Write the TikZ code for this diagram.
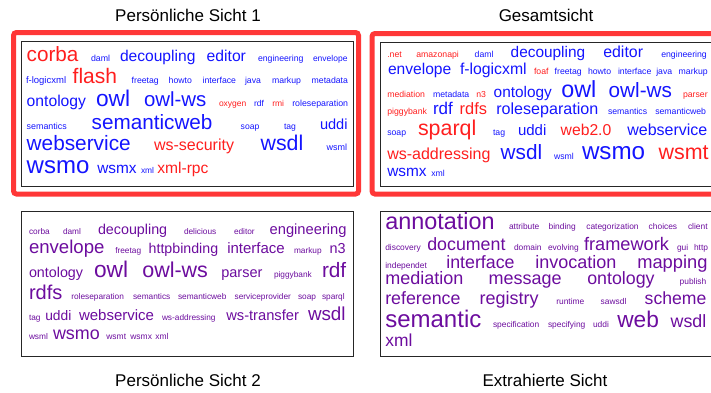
\documentclass[tikz,border=0pt]{standalone}
\usepackage{fontspec}
\setmainfont{Liberation Sans}
\definecolor{tagblue}{RGB}{20,20,255}
\definecolor{tagred}{RGB}{255,30,30}
\definecolor{tagpurple}{RGB}{108,12,158}
\definecolor{hired}{RGB}{255,55,55}
\begin{document}
\begin{tikzpicture}[x=1pt,y=-1pt,
  tag/.style={anchor=base west,inner sep=0pt,outer sep=0pt},
  title/.style={anchor=base,inner sep=0pt,font=\fontsize{17}{17}\selectfont},
  frame/.style={draw=black!85,line width=1pt},
  hilite/.style={draw=hired,line width=5pt,rounded corners=3pt}
]
\useasboundingbox (0,0) rectangle (711,392);
\clip (0,0) rectangle (711,392);
\draw[hilite] (13.5,32.5) rectangle (358.5,194);
\draw[hilite] (372,33.5) rectangle (730,194);
\draw[frame] (21,41) rectangle (353,186);
\draw[frame] (380,42) rectangle (730,186);
\draw[frame] (21,211) rectangle (353,356);
\draw[frame] (380,211) rectangle (730,356);
\node[title] (ps1title) at (188,21) {Persönliche Sicht 1};
\node[title] (gstitle)  at (546,21) {Gesamtsicht};
\node[title] (ps2title) at (188,386) {Persönliche Sicht 2};
\node[title] (extitle)  at (545,386) {Extrahierte Sicht};
\foreach \px/\py/\sz/\col/\txt [count=\i] in {
  26.7/61.7/20.7/tagred/corba, 91/61.7/8.8/tagblue/daml, 120/61.7/15.6/tagblue/decoupling,
  206.7/61.7/15.7/tagblue/editor, 258/61.7/8.7/tagblue/engineering, 313/61.7/8.5/tagblue/envelope,
  26/83/9.5/tagblue/f-logicxml, 72.7/83/21/tagred/flash, 131.7/83/8.7/tagblue/freetag,
  168.7/83/8.7/tagblue/howto, 202.7/83/8.7/tagblue/interface, 245/83/8.7/tagblue/java,
  272/83/8.7/tagblue/markup, 311.7/83/8.7/tagblue/metadata,
  26.7/106/15.7/tagblue/ontology, 96/106/22.7/tagblue/owl, 144/106/20.4/tagblue/owl-ws,
  219/106/8.5/tagred/oxygen, 254/106/8.5/tagblue/rdf, 272.3/106/8.5/tagred/rmi,
  292.3/106/8.8/tagblue/roleseparation,
  26.7/129/8.9/tagblue/semantics, 91.7/129/20.7/tagblue/semanticweb, 240.7/129/8.6/tagblue/soap,
  284/129/8.6/tagblue/tag, 320/129/14.6/tagblue/uddi,
  26.7/150/20.8/tagblue/webservice, 154/150/16/tagred/ws-security, 260.7/150/21.3/tagblue/wsdl,
  326.7/150/9/tagblue/wsml,
  26.7/173/24/tagblue/wsmo, 97.3/173/15.4/tagblue/wsmx, 141/173/8.4/tagblue/xml,
  157.3/173/15.6/tagred/xml-rpc}
  \node[tag,text=\col,font=\fontsize{\sz}{\sz}\selectfont] (ps1w\i) at (\px,\py) {\txt};
\foreach \px/\py/\sz/\col/\txt [count=\i] in {
  387.3/57.3/8.7/tagred/.net, 416.3/57.3/8.7/tagred/amazonapi, 474.7/57.3/8.7/tagblue/daml,
  510.7/57.3/15.4/tagblue/decoupling, 603.3/57.3/15.9/tagblue/editor, 661.3/57.3/8.7/tagblue/engineering,
  388/74.3/15.6/tagblue/envelope, 460/74.3/15.8/tagblue/f-logicxml, 534/74.3/8.7/tagred/foaf,
  554.7/74.3/8.7/tagblue/freetag, 588/74.3/8.7/tagblue/howto, 618/74.3/8.7/tagblue/interface,
  656.3/74.3/8.7/tagblue/java, 678.7/74.3/8.7/tagblue/markup,
  387.3/97.7/8.7/tagred/mediation, 433/97.7/8.7/tagblue/metadata, 476.3/97.7/8.7/tagred/n3,
  493.7/97.7/15.4/tagblue/ontology, 561.3/97.7/23.3/tagblue/owl, 608.7/97.7/20.7/tagblue/owl-ws,
  683/97.7/8.7/tagred/parser,
  387.3/114.3/8.7/tagred/piggybank, 433/114.3/17/tagblue/rdf, 459.7/114.3/16.4/tagred/rdfs,
  496.3/114.3/16.1/tagblue/roleseparation, 608/114.3/8.7/tagblue/semantics,
  655.3/114.3/8.7/tagblue/semanticweb,
  387.3/135.7/8.7/tagblue/soap, 418/135.7/21.4/tagred/sparql, 493/135.7/8.7/tagblue/tag,
  518/135.7/15/tagblue/uddi, 560.7/135.7/15.7/tagred/web2.0, 627.3/135.7/16/tagblue/webservice,
  387.3/159/16/tagred/ws-addressing, 500.7/159/20.7/tagblue/wsdl, 554/159/8.7/tagblue/wsml,
  582/159/24.2/tagblue/wsmo, 658.7/159/21.4/tagred/wsmt,
  387.3/176.7/15.4/tagblue/wsmx, 431.3/176.7/8.7/tagblue/xml}
  \node[tag,text=\col,font=\fontsize{\sz}{\sz}\selectfont] (gsw\i) at (\px,\py) {\txt};
\foreach \px/\py/\sz/\txt [count=\i] in {
  29/234.3/8.3/corba, 63/234.3/8.3/daml, 98/234.3/14.3/decoupling, 184/234.3/8.3/delicious,
  234/234.3/8.3/editor, 269.7/234.3/14.7/engineering,
  29/253.3/18.6/envelope, 115.3/253.3/8.3/freetag, 148.7/253.3/14.2/httpbinding,
  227.3/253.3/15/interface, 294/253.3/8.3/markup, 329.7/253.3/14.4/n3,
  29/277.7/14.3/ontology, 94/277.7/22.7/owl, 142.3/277.7/21.5/owl-ws, 221.3/277.7/14.5/parser,
  274/277.7/8.3/piggybank, 322/277.7/20.8/rdf,
  29/299/20/rdfs, 71.3/299/8.3/roleseparation, 133/299/8.3/semantics, 178/299/8.3/semanticweb,
  234.7/299/8.3/serviceprovider, 298/299/8.3/soap, 322/299/8.3/sparql,
  29/320/8.3/tag, 45.3/320/13.8/uddi, 79/320/15/webservice, 162/320/8.3/ws-addressing,
  226.3/320/14.7/ws-transfer, 308/320/18.8/wsdl,
  29/339/8.3/wsml, 53/339/17.9/wsmo, 106.3/339/8.5/wsmt, 130.3/339/8.5/wsmx, 155.3/339/8.5/xml}
  \node[tag,text=tagpurple,font=\fontsize{\sz}{\sz}\selectfont] (ps2w\i) at (\px,\py) {\txt};
\foreach \px/\py/\sz/\txt [count=\i] in {
  385.3/229/23.4/annotation, 509/229/8.4/attribute, 548.7/229/8.4/binding,
  586.3/229/8.4/categorization, 648.7/229/8.4/choices, 688/229/8.4/client,
  385.3/250/8.4/discovery, 427.3/250/17.8/document, 514/250/8.4/domain, 548/250/8.4/evolving,
  584/250/18.2/framework, 677/250/8.4/gui, 694/250/8.4/http,
  385.3/268.3/8.4/independet, 446.3/268.3/17.8/interface, 535.3/268.3/18/invocation,
  637.3/268.3/18.3/mapping,
  385.3/284.3/18/mediation, 488.7/284.3/18/message, 587.3/284.3/17.8/ontology,
  679.7/284.3/8.4/publish,
  385.3/304.3/17.8/reference, 479.7/304.3/18/registry, 556.3/304.3/8.4/runtime,
  600.7/304.3/8.4/sawsdl, 644.7/304.3/17.6/scheme,
  385.3/327.7/24/semantic, 493/327.7/8.4/specification, 548/327.7/8.4/specifying,
  593/327.7/8.4/uddi, 617.3/327.7/22.7/web, 670.7/327.7/17.8/wsdl,
  385.3/346.7/17.4/xml}
  \node[tag,text=tagpurple,font=\fontsize{\sz}{\sz}\selectfont] (exw\i) at (\px,\py) {\txt};
\end{tikzpicture}
\end{document}
